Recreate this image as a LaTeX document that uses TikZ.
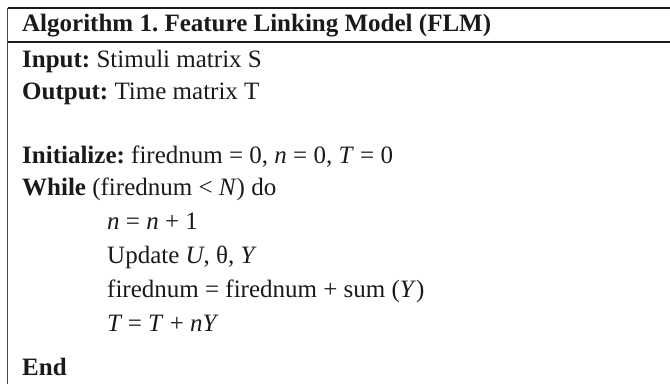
\documentclass[tikz,border=0pt]{standalone}
\usepackage{fontspec}
\setmainfont{Liberation Serif}
\frenchspacing
\definecolor{ink}{HTML}{1A1A1A}
\begin{document}
\begin{tikzpicture}[x=1pt,y=-1pt,
  txt/.style={anchor=base west,inner sep=0pt,text=ink,font=\fontsize{25}{30}\selectfont},
  rule/.style={draw=ink,line width=2pt},
  vrule/.style={draw=ink!80,line width=1.5pt}]
\useasboundingbox (0,0) rectangle (670,384);
\coordinate (tl) at (7.5,7.5);
\coordinate (tr) at (670,7.5);
\coordinate (hl) at (7.5,41.5);
\coordinate (hr) at (670,41.5);
\coordinate (bl) at (7.5,384);
\draw[rule] (tl) -- (tr);
\draw[rule] (hl) -- (hr);
\draw[vrule] (tl) -- (bl);
\node[txt] (head) at (22,31) {\textbf{Algorithm 1. Feature Linking Model (FLM)}};
\node[txt] (in) at (22,67) {\textbf{Input:} Stimuli matrix S};
\node[txt] (out) at (22,99) {\textbf{Output:} Time matrix T};
\node[txt] (init) at (22,163) {\textbf{Initialize:} firednum = 0, \textit{n} = 0, \textit{T} = 0};
\node[txt] (while) at (22,195) {\textbf{While} (firednum < \textit{N}) do};
\node[txt] (l1) at (107,229) {\textit{n} = \textit{n} + 1};
\node[txt] (l2) at (107,263) {Update \textit{U}, θ, \textit{Y}};
\node[txt] (l3) at (107,297) {firednum = firednum + sum (\textit{Y})};
\node[txt] (l4) at (107,331) {\textit{T}\kern-1pt{} = \textit{T} + \textit{nY}};
\node[txt] (end) at (22,375) {\textbf{End}};
\end{tikzpicture}
\end{document}
